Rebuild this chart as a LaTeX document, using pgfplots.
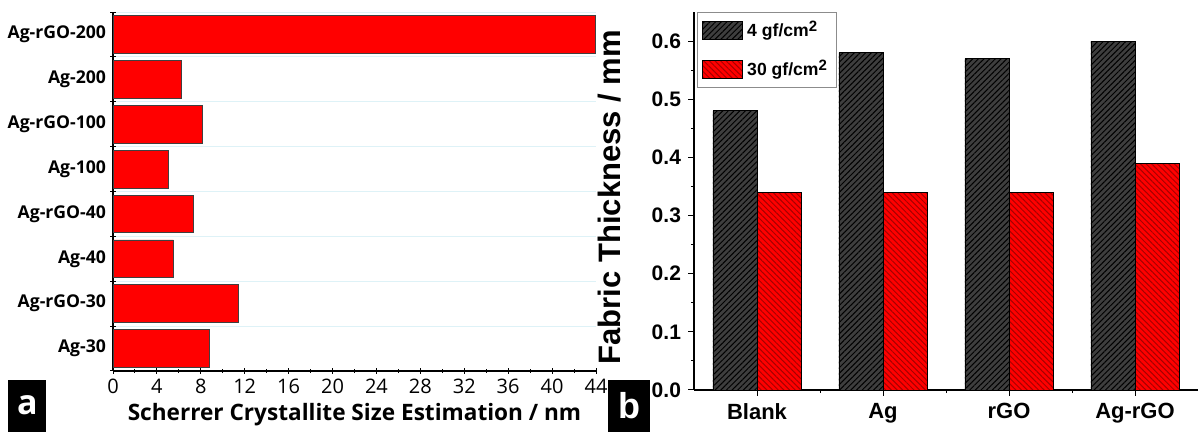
\documentclass[border=0pt]{standalone}
\usepackage{fontspec}
\setmainfont{Liberation Sans}
\newfontfamily\osans{Open Sans}
\usepackage{pgfplots}
\pgfplotsset{compat=1.18}
\usetikzlibrary{patterns.meta}
\definecolor{barred}{RGB}{255,0,0}
\definecolor{darkhatch}{RGB}{62,62,62}
\definecolor{redline}{RGB}{165,0,0}
\definecolor{gridcyan}{RGB}{222,242,247}
\newcommand{\sq}{\raisebox{0.55ex}{\fontsize{7.5}{8}\selectfont 2}}
\begin{document}
\begin{tikzpicture}
\useasboundingbox (0,0) rectangle (599.5pt,216pt);
% ---------------- panel a ----------------
\begin{axis}[
  at={(56.5pt,30.5pt)}, anchor=south west,
  scale only axis, width=241.5pt, height=179.5pt,
  xbar, bar width=0.84,
  xmin=0, xmax=44, ymin=0.5, ymax=8.5,
  axis x line*=bottom, axis y line*=left,
  axis line style={line width=0.6pt, black},
  xtick={0,4,...,44}, minor xtick={2,6,...,42},
  ytick={0.5,1.5,...,8.5}, yticklabels={},
  extra y ticks={1,2,3,4,5,6,7,8},
  extra y tick labels={Ag-30,Ag-rGO-30,Ag-40,Ag-rGO-40,Ag-100,Ag-rGO-100,Ag-200,Ag-rGO-200},
  extra y tick style={major tick length=0pt, grid=none},
  ymajorgrids, major grid style={gridcyan, line width=0.5pt},
  tick align=center, major tick length=3pt, minor tick length=2pt,
  tick style={black, line width=0.5pt},
  /pgf/number format/assume math mode=true,
  xticklabel style={font=\osans\fontsize{10}{12}\selectfont, yshift=1pt},
  yticklabel style={font=\osans\bfseries\fontsize{8.8}{10}\selectfont},
  xlabel={Scherrer Crystallite Size Estimation / nm},
  xlabel style={font=\osans\bfseries\fontsize{11.3}{13}\selectfont, at={(axis description cs:0.5,-0.1226)}, anchor=center},
]
\addplot[fill=barred, draw=black!75, line width=0.35pt] coordinates {
  (8.8,1) (11.45,2) (5.5,3) (7.3,4) (5.05,5) (8.1,6) (6.2,7) (43.9,8)};
\end{axis}
% ---------------- panel b ----------------
\begin{axis}[
  at={(347pt,21pt)}, anchor=south west,
  scale only axis, width=252pt, height=189pt,
  ybar=0pt, bar width=0.35,
  xmin=0.5, xmax=4.5, ymin=0, ymax=0.65,
  axis x line*=bottom, axis y line*=left,
  axis line style={line width=0.6pt, black},
  xtick={1,2,3,4}, xticklabels={Blank,Ag,rGO,Ag-rGO},
  minor xtick={1.5,2.5,3.5},
  ytick={0,0.1,0.2,0.3,0.4,0.5,0.6},
  minor ytick={0.05,0.15,0.25,0.35,0.45,0.55},
  tick align=outside, major tick length=3pt, minor tick length=1.6pt,
  tick style={black, line width=0.5pt},
  /pgf/number format/assume math mode=true,
  yticklabel style={/pgf/number format/fixed, /pgf/number format/fixed zerofill, /pgf/number format/precision=1, font=\bfseries\fontsize{10.5}{12}\selectfont},
  xticklabel style={font=\bfseries\fontsize{11}{13}\selectfont},
  ylabel={Fabric Thickness / mm},
  ylabel style={font=\bfseries\fontsize{15.5}{18}\selectfont, at={(axis description cs:-0.168,0.51)}, anchor=center},
  legend style={at={(axis description cs:0.006,1)}, anchor=north west, draw=black!45, line width=0.4pt,
    font=\bfseries\fontsize{8.8}{10}\selectfont, row sep=6pt, inner sep=2.5pt},
  legend cell align=left,
  legend image code/.code={\draw[#1] (0pt,-4.5pt) rectangle (20pt,4.5pt);},
]
\addplot[fill=darkhatch, draw=black, line width=0.4pt,
  postaction={pattern={Lines[angle=45,distance=2pt,line width=0.5pt]}, pattern color=black}]
  coordinates {(1,0.48) (2,0.58) (3,0.57) (4,0.60)};
\addplot[fill=barred, draw=black, line width=0.4pt,
  postaction={pattern={Lines[angle=-45,distance=2pt,line width=0.5pt]}, pattern color=redline}]
  coordinates {(1,0.34) (2,0.34) (3,0.34) (4,0.39)};
\legend{4 gf/cm\sq,30 gf/cm\sq}
\end{axis}
% panel letters
\node[fill=black, text=white, font=\osans\bfseries\fontsize{17}{17}\selectfont, minimum width=19pt, minimum height=26pt, inner sep=0pt, anchor=south west] at (4pt,0pt) {a};
\node[fill=black, text=white, font=\bfseries\fontsize{18}{18}\selectfont, minimum width=21pt, minimum height=26pt, inner sep=0pt, anchor=south west] at (304pt,0pt) {b};
\end{tikzpicture}
\end{document}
